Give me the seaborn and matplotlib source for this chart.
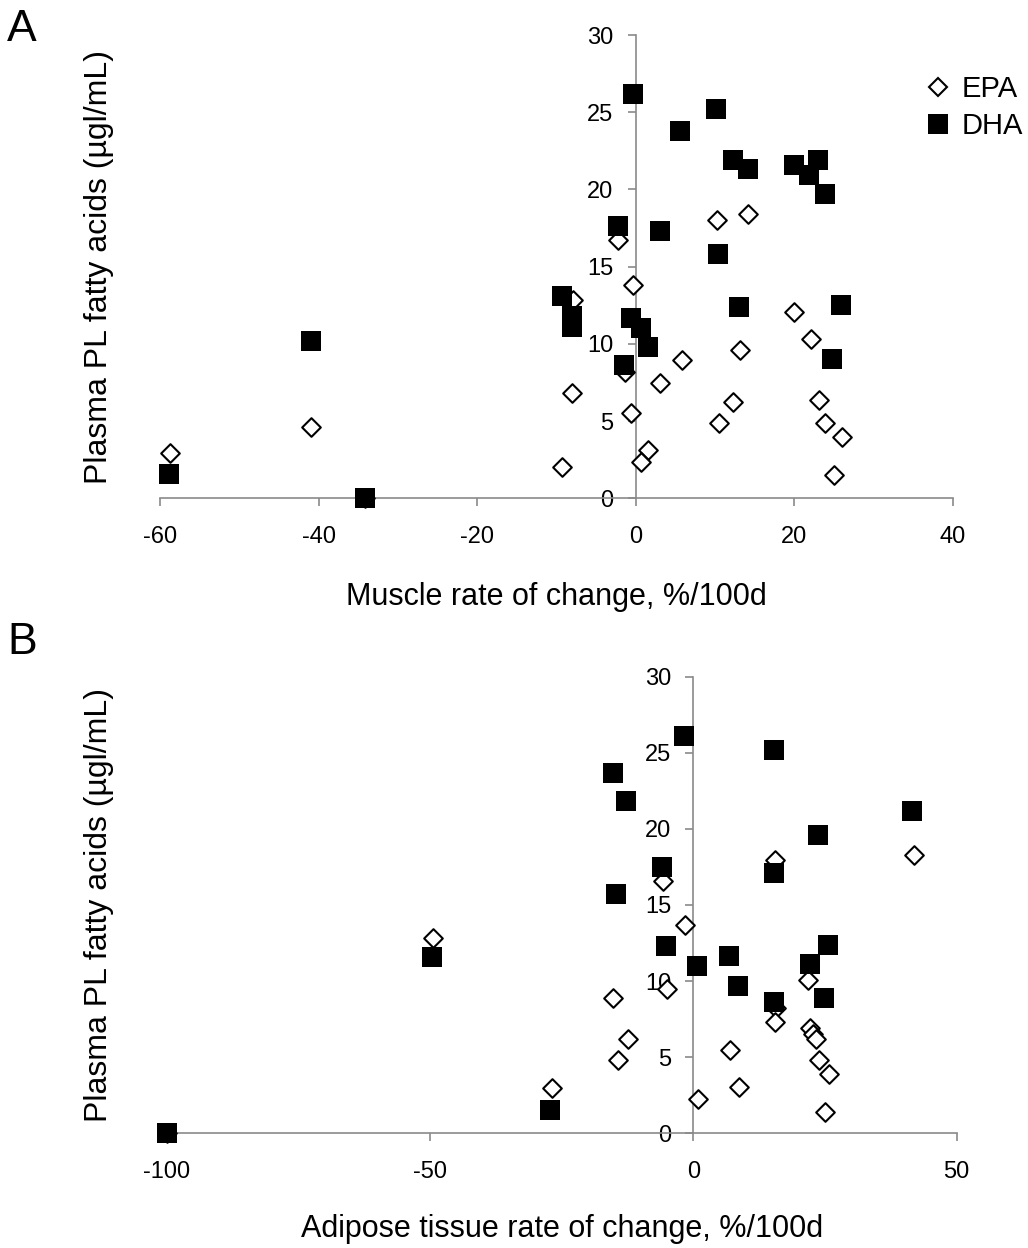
import matplotlib
matplotlib.use("Agg")
import matplotlib.pyplot as plt
from matplotlib.lines import Line2D
import seaborn as sns

# Panel A: muscle rate of change (x) vs plasma PL fatty acids (y)
epa_a_x = [10.2, 14.1, -2.2, -0.3, -7.9, 20.0, 22.1, 13.2, 5.8, -1.35, 3.1, -8.0, 12.3,
           23.1, -0.6, 10.5, 23.9, 26.0, 1.5, 0.7, -9.3, 25.0, -58.8, -40.9, -34.2]
epa_a_y = [18.0, 18.4, 16.7, 13.8, 12.85, 12.05, 10.3, 9.6, 8.96, 8.2, 7.45, 6.8, 6.26,
           6.37, 5.55, 4.86, 4.86, 3.95, 3.13, 2.33, 2.05, 1.5, 2.95, 4.6, 0.0]
dha_a_x = [-0.4, 10.1, 5.6, 12.2, 14.1, 19.9, 23.0, 21.9, 23.8, -2.3, 3.0, 10.4, -9.3,
           -8.1, -8.1, -0.6, 0.6, 1.5, -1.5, 13.0, 25.9, 24.8, -41.0, -58.9, -34.2]
dha_a_y = [26.2, 25.2, 23.8, 21.9, 21.3, 21.6, 21.9, 20.95, 19.7, 17.6, 17.3, 15.8, 13.1,
           11.8, 11.1, 11.7, 11.0, 9.8, 8.6, 12.4, 12.5, 9.0, 10.2, 1.57, 0.0]

# Panel B: adipose tissue rate of change
epa_b_x = [41.8, 15.5, -5.8, -1.6, -5.1, -15.2, 21.8, 15.7, 15.5, 22.2, 22.8, 23.3, -12.5,
           7.0, -14.4, 23.9, 25.7, 8.7, 0.8, 25.0, -26.8, -49.4, -100.0]
epa_b_y = [18.3, 17.95, 16.6, 13.7, 9.5, 8.9, 10.1, 8.2, 7.3, 6.9, 6.5, 6.2, 6.2,
           5.5, 4.8, 4.8, 3.9, 3.07, 2.23, 1.42, 2.97, 12.8, 0.0]
dha_b_x = [-1.7, 15.4, -15.3, -12.7, 41.6, 23.7, -6.0, 15.4, -14.6, -5.2, 25.6, 0.6,
           6.8, 22.2, 8.4, 15.4, 24.8, -100.0, -49.6, -27.2]
dha_b_y = [26.1, 25.2, 23.7, 21.8, 21.2, 19.6, 17.5, 17.1, 15.7, 12.3, 12.4, 11.0,
           11.65, 11.1, 9.7, 8.6, 8.9, 0.0, 11.6, 1.53]

y_ticks = [0, 5, 10, 15, 20, 25, 30]
x_ticks_a = [-60, -40, -20, 0, 20, 40]
x_ticks_b = [-100, -50, 0, 50]
y_label = "Plasma PL fatty acids (\u00b5gl/mL)"
x_label_a = "Muscle rate of change, %/100d"
x_label_b = "Adipose tissue rate of change, %/100d"

sns.set_style("white")
plt.rcParams["font.family"] = ["Liberation Sans", "DejaVu Sans"]
plt.rcParams["axes.unicode_minus"] = False
plt.rcParams["text.color"] = "black"
plt.rcParams["axes.labelcolor"] = "black"
plt.rcParams["xtick.labelcolor"] = "black"
plt.rcParams["ytick.labelcolor"] = "black"

GREY = "#8a8a8a"


def draw_panel(ax, ex, ey, dx, dy, xticks, xlabel, ylab_x, xlab_y):
    sns.scatterplot(x=ex, y=ey, marker="D", s=90, color="white", edgecolor="black",
                    linewidth=1.5, ax=ax, clip_on=False, zorder=3)
    sns.scatterplot(x=dx, y=dy, marker="s", s=200, color="black", edgecolor="black",
                    linewidth=0, ax=ax, clip_on=False, zorder=4)
    ax.set_xlim(xticks[0], xticks[-1])
    ax.set_ylim(0, 30)
    ax.set_xticks(xticks)
    ax.set_yticks(y_ticks)
    for s in ["top", "right"]:
        ax.spines[s].set_visible(False)
    ax.spines["left"].set_position(("data", 0))
    for s in ["left", "bottom"]:
        ax.spines[s].set_color(GREY)
        ax.spines[s].set_linewidth(1.2)
    ax.tick_params(axis="x", direction="out", length=6, width=1.2, color=GREY, pad=14,
                   labelsize=17, bottom=True)
    ax.tick_params(axis="y", direction="out", length=6, width=1.2, color=GREY, pad=10,
                   labelsize=17, left=True)
    ax.set_xlabel(xlabel, fontsize=22)
    ax.set_ylabel(y_label, fontsize=23)
    ax.xaxis.set_label_coords(0.5, xlab_y)
    ax.yaxis.set_label_coords(ylab_x, 0.5)
    ax.grid(False)


fig = plt.figure(figsize=(10.28, 12.48), dpi=100)
ax_a = fig.add_axes([160 / 1028, 1 - 498.3 / 1248, 793 / 1028, 463.3 / 1248])
ax_b = fig.add_axes([166.7 / 1028, 1 - 1133.3 / 1248, 790 / 1028, 456.7 / 1248])

draw_panel(ax_a, epa_a_x, epa_a_y, dha_a_x, dha_a_y, x_ticks_a, x_label_a, -0.058, -0.181)
draw_panel(ax_b, epa_b_x, epa_b_y, dha_b_x, dha_b_y, x_ticks_b, x_label_b, -0.067, -0.177)

fig.text(7 / 1028, 1 - 9 / 1248, "A", fontsize=32, va="top", ha="left")
fig.text(7 / 1028, 1 - 622 / 1248, "B", fontsize=32, va="top", ha="left")

handles = [
    Line2D([], [], marker="D", linestyle="none", markersize=9, markerfacecolor="white",
           markeredgecolor="black", markeredgewidth=1.5),
    Line2D([], [], marker="s", linestyle="none", markersize=14, markerfacecolor="black",
           markeredgecolor="black", markeredgewidth=0),
]
fig.legend(handles, ["EPA", "DHA"], loc="upper left", bbox_to_anchor=(922 / 1028, 1 - 75 / 1248),
           frameon=False, fontsize=21, handletextpad=0.25, labelspacing=0.3,
           handlelength=1.1, borderpad=0, borderaxespad=0)

fig.savefig("out.png", dpi=100)
